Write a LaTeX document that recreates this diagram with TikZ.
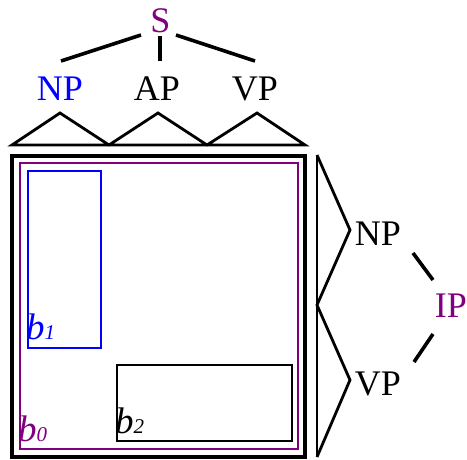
\documentclass[tikz,border=0pt]{standalone}
\usepackage{fontspec}
\setmainfont{Liberation Serif}
\definecolor{tpurple}{RGB}{128,0,128}
\definecolor{tblue}{RGB}{0,0,255}
\tikzset{
  lbl/.style={inner sep=0pt, anchor=base, font=\fontsize{36}{40}\selectfont},
  blbl/.style={inner sep=0pt, anchor=base west, font=\fontsize{37}{40}\selectfont\itshape},
  branch/.style={line width=3.6pt},
  tri/.style={line width=2.8pt, line join=miter},
  outerbox/.style={line width=3.4pt},
  innerbox/.style={line width=2.5pt}
}
\newcommand{\subidx}[1]{{\fontsize{21}{22}\selectfont #1}}
\begin{document}
\begin{tikzpicture}[x=1pt,y=-1pt]
\useasboundingbox (0,0) rectangle (467,459);

% top tree: S over NP AP VP
\node[lbl, text=tpurple] (S)  at (160.5,32) {S};
\node[lbl, text=tblue]   (NPt) at (60,100) {NP};
\node[lbl]               (APt) at (157,100) {AP};
\node[lbl]               (VPt) at (255,100) {VP};

\coordinate (sl1) at (141,35);  \coordinate (sl2) at (61,61);
\coordinate (sm1) at (160,36);  \coordinate (sm2) at (160,61);
\coordinate (sr1) at (176,35);  \coordinate (sr2) at (255,61);
\draw[branch] (sl1) -- (sl2);
\draw[branch] (sm1) -- (sm2);
\draw[branch] (sr1) -- (sr2);

% triangles under the three phrases
\coordinate (t0) at (12,145);
\coordinate (ta) at (60,113);
\coordinate (t1) at (109,145);
\coordinate (tb) at (158,113);
\coordinate (t2) at (207,145);
\coordinate (tc) at (257,113);
\coordinate (t3) at (305,145);
\draw[tri] (t0) -- (ta) -- (t1) -- (tb) -- (t2) -- (tc) -- (t3) -- cycle;

% boxes
\draw[outerbox] (12,156) rectangle (305,457);
\draw[innerbox, tpurple] (20,163) rectangle (298,449);
\draw[innerbox, tblue] (28,171) rectangle (101,348);
\draw[innerbox] (117,365) rectangle (292,441);

\node[blbl, text=tblue]   (b1) at (26,339) {b\subidx{1}};
\node[blbl, text=tpurple] (b0) at (18,441) {b\subidx{0}};
\node[blbl]               (b2) at (115,433) {b\subidx{2}};

% right tree: IP over NP and VP
\coordinate (z0) at (317,155);
\coordinate (z1) at (350,230);
\coordinate (z2) at (317,305);
\coordinate (z3) at (350,380);
\coordinate (z4) at (317,457);
\draw[tri] (z0) -- (z1) -- (z2) -- (z3) -- (z4);
\draw[tri] (z0) -- (z4);

\node[lbl] (NPr) at (378,245) {NP};
\node[lbl] (VPr) at (378,395) {VP};
\node[lbl, text=tpurple] (IP) at (451,317) {IP};

\coordinate (i1) at (413,253); \coordinate (i2) at (433,280);
\coordinate (i3) at (433,334); \coordinate (i4) at (414,362);
\draw[branch] (i1) -- (i2);
\draw[branch] (i3) -- (i4);
\end{tikzpicture}
\end{document}
